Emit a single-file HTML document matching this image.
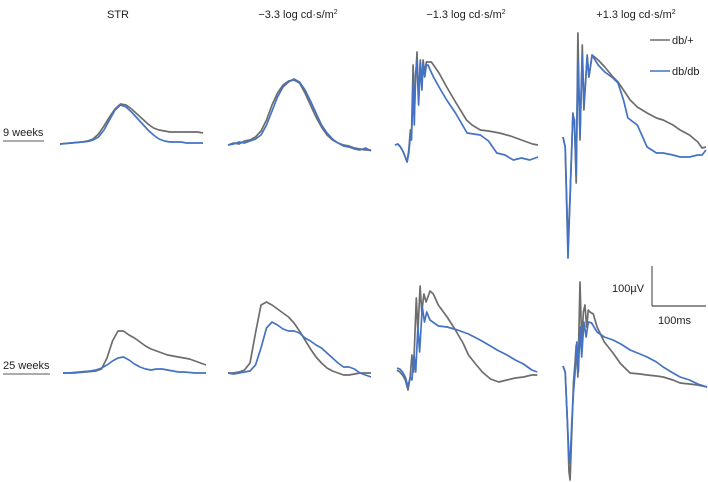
<!DOCTYPE html>
<html><head><meta charset="utf-8">
<style>
body{margin:0;background:#fff;}
svg{display:block;font-family:"Liberation Sans",sans-serif;}
</style></head>
<body>
<svg id="chart" width="708" height="482" viewBox="0 0 708 482" xmlns="http://www.w3.org/2000/svg">
<g font-size="11" fill="#222" text-anchor="middle">
<text x="118" y="18">STR</text>
<text x="298" y="18">−3.3 log cd·s/m<tspan font-size="7" dy="-4">2</tspan></text>
<text x="466" y="18">−1.3 log cd·s/m<tspan font-size="7" dy="-4">2</tspan></text>
<text x="636" y="18">+1.3 log cd·s/m<tspan font-size="7" dy="-4">2</tspan></text>
</g>
<g font-size="11" fill="#222">
<text x="3" y="136">9 weeks</text>
<line x1="3" y1="141" x2="44" y2="141" stroke="#222" stroke-width="0.8"/>
<text x="3" y="369">25 weeks</text>
<line x1="3" y1="374" x2="50" y2="374" stroke="#222" stroke-width="0.8"/>
</g>
<g font-size="11" fill="#222">
<line x1="650" y1="40" x2="670" y2="40" stroke="#6d6d6d" stroke-width="1.6"/>
<text x="672" y="44">db/+</text>
<line x1="650" y1="71" x2="670" y2="71" stroke="#4472c4" stroke-width="1.6"/>
<text x="672" y="75">db/db</text>
</g>
<g font-size="11" fill="#222">
<line x1="652" y1="266" x2="652" y2="306" stroke="#222" stroke-width="0.9"/>
<line x1="652" y1="306" x2="706" y2="306" stroke="#222" stroke-width="0.9"/>
<text x="612" y="292">100µV</text>
<text x="658" y="324">100ms</text>
</g>
<g id="traces"></g>
</svg>
<script>
// amplitudes in units of 2.5 µV (40 units = 100 µV), time in ms
const t10 = [0,10,20,30,40,50,60,70,80,90,100,110,120,130,140,150,160,170,180,190,200,210,220,230,240,250,260];
const str9Gray = [0,0.5,1,1.5,2,3,5,10,18,27,35,40,39,35,30,25,20,16,14,13,12,12,12,12,12,12,11];
const str9Blue = [0,0.5,1,1.5,2,2.5,4,7,14,24,34,39,37,32,26,20,14,9,5,3,2,2,2,1,1,1,1];
const str25Gray = [0,0,0,0.5,1,1.5,2,4,15,32,42,42,38,35,31,27,24,22,20,18,17,16,15,14,12,10,8];
const str25Blue = [0,0,0.5,1,1.5,2,3,5,8,12,15,16,13,9,6,4,3,4,4,3,2,1,1,0.5,0,0,0];
const dim9Gray = [0,2,1,4,5,8,14,25,40,52,60,64,65,62,52,40,28,18,10,5,2,0,-1,-3,-4,-5,-5];
const dim9Blue = [0,1,3,2,4,6,10,20,34,48,58,63,66,63,55,44,32,20,12,6,2,-1,-2,-4,-5,-3,-6];
const dim25Gray = [0,0,1,3,10,40,68,71,68,64,60,56,50,42,33,24,16,10,5,2,0,-2,-2,-1,0,0,0];
const dim25Blue = [0,-1,0,1,2,8,25,45,51,48,44,42,42,40,35,32,28,25,20,15,10,6,6,4,0,-2,-4];

const mid9GrayT = [0,5,10,15,20,22,25,28,30,33,35,37,40,43,46,49,51,54,57,60,66,70,80,94,110,130,140,155,170,190,210,230,250,260];
const mid9GrayV = [0,1,-2,-7,-14,-17,-5,15,10,80,30,60,93,45,85,60,85,72,83,83,83,80,72,58,43,25,20,15,14,12,9,5,1,0];
const mid9BlueT = [0,5,10,15,20,22,25,28,30,33,35,37,40,43,46,49,51,54,57,60,64,70,80,94,110,131,155,170,185,200,215,230,245,260];
const mid9BlueV = [0,1,-2,-7,-14,-17,-8,10,5,60,20,70,85,40,82,55,82,68,80,80,75,68,58,45,32,12,10,4,-8,-10,-15,-13,-15,-12];
const bright9GrayT = [0,4,9,13,18,21,24,27,31,35,38,44,47,53,64,76,91,100,110,122,135,153,170,182,200,213,230,245,253,260];
const bright9GrayV = [8,-2,-100,-50,32,20,-38,112,5,100,35,90,68,90,85,78,68,63,55,45,38,32,27,25,20,15,10,3,-3,-2];
const bright9BlueT = [0,4,9,13,18,21,24,27,31,35,38,44,47,53,64,76,91,100,110,118,135,153,170,182,200,213,230,245,253,260];
const bright9BlueV = [8,-2,-113,-52,30,25,-30,85,10,90,40,88,68,90,80,73,67,62,45,27,20,-2,-8,-8,-10,-12,-12,-10,-10,-5];

const mid25GrayT = [0,5,10,15,20,24,27,30,35,38,42,45,49,53,60,66,75,91,105,120,130,140,155,170,185,200,215,230,245,255];
const mid25GrayV = [2,0,-3,-8,-18,-5,17,0,74,40,86,60,78,70,81,78,67,55,43,29,17,10,0,-7,-10,-8,-6,-5,-3,-3];
const mid25BlueT = [0,5,10,15,20,24,27,31,34,38,41,46,50,54,60,75,91,110,130,151,170,182,200,215,230,245,255];
const mid25BlueV = [4,3,0,-5,-15,-5,-8,17,0,45,20,65,50,60,52,46,45,42,38,32,26,22,17,12,8,2,0];
const bright25GrayT = [0,4,8,11,13,16,19,22,24,27,31,34,37,40,43,46,49,55,62,75,91,105,122,140,153,170,182,200,213,230,245,262];
const bright25GrayV = [6,0,-50,-100,-108,-60,-10,10,27,-5,90,30,60,67,45,62,60,58,45,30,19,8,-1,-2,-3,-4,-5,-8,-11,-12,-13,-15];
const bright25BlueT = [0,4,8,11,13,16,19,22,25,28,31,34,38,42,46,52,62,75,91,105,122,140,153,170,182,200,213,230,245,262];
const bright25BlueV = [6,0,-50,-85,-91,-50,-20,0,30,0,45,15,50,35,50,49,40,35,32,28,22,18,15,10,5,-1,-5,-8,-12,-15];

const PX_PER_MS = 0.55, PX_PER_UNIT = 1;
function xScale(x0, t){ return x0 + t*PX_PER_MS; }
function yScale(base, v){ return base - v*PX_PER_UNIT; }
const g = document.getElementById('traces');
function trace(name, x0, base, ts, vs, color){
  let d = '';
  for(let i=0;i<vs.length;i++){
    d += (i?'L':'M') + xScale(x0, ts[i]).toFixed(1) + ',' + yScale(base, vs[i]).toFixed(1);
  }
  const p = document.createElementNS('http://www.w3.org/2000/svg','path');
  p.setAttribute('d', d);
  p.setAttribute('fill','none');
  p.setAttribute('stroke', color);
  p.setAttribute('stroke-width','1.7');
  p.setAttribute('stroke-linejoin','round');
  
  
  g.appendChild(p);
}
const GRAY='#6d6d6d', BLUE='#4472c4';
trace('str-9wk-db-plus', 60, 144, t10, str9Gray, GRAY);
trace('str-9wk-db-db', 60, 144, t10, str9Blue, BLUE);
trace('str-25wk-db-plus', 63, 373, t10, str25Gray, GRAY);
trace('str-25wk-db-db', 63, 373, t10, str25Blue, BLUE);
trace('dim-9wk-db-plus', 228, 145, t10, dim9Gray, GRAY);
trace('dim-9wk-db-db', 228, 145, t10, dim9Blue, BLUE);
trace('dim-25wk-db-plus', 228, 373, t10, dim25Gray, GRAY);
trace('dim-25wk-db-db', 228, 373, t10, dim25Blue, BLUE);
trace('mid-9wk-db-plus', 395, 145, mid9GrayT, mid9GrayV, GRAY);
trace('mid-9wk-db-db', 395, 145, mid9BlueT, mid9BlueV, BLUE);
trace('mid-25wk-db-plus', 397, 372, mid25GrayT, mid25GrayV, GRAY);
trace('mid-25wk-db-db', 397, 372, mid25BlueT, mid25BlueV, BLUE);
trace('bright-9wk-db-plus', 563, 145, bright9GrayT, bright9GrayV, GRAY);
trace('bright-9wk-db-db', 563, 145, bright9BlueT, bright9BlueV, BLUE);
trace('bright-25wk-db-plus', 563, 372, bright25GrayT, bright25GrayV, GRAY);
trace('bright-25wk-db-db', 563, 372, bright25BlueT, bright25BlueV, BLUE);
</script>
</body></html>
